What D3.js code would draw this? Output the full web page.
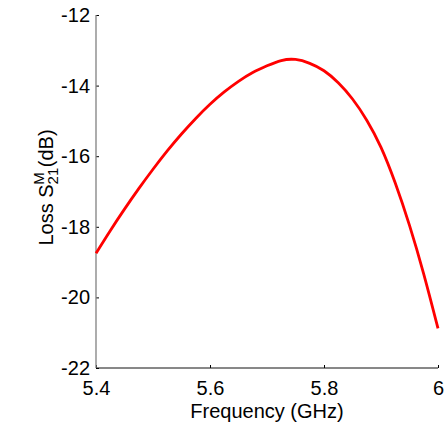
<!DOCTYPE html>
<html>
<head>
<meta charset="utf-8">
<script src="https://cdn.jsdelivr.net/npm/d3@7"></script>
<style>
  body { margin: 0; background: #fff; }
  svg text { font-family: "Liberation Sans", Arial, sans-serif; fill: #000; }
</style>
</head>
<body>
<div id="chart"></div>
<script>
// frequency in GHz, loss in dB
var freq = [5.400, 5.425, 5.450, 5.475, 5.500, 5.525, 5.550, 5.575, 5.600,
            5.625, 5.650, 5.675, 5.700, 5.725, 5.750, 5.775, 5.800, 5.825,
            5.850, 5.875, 5.900, 5.925, 5.950, 5.975, 6.000];
var loss = [-18.75, -18.11, -17.50, -16.92, -16.37, -15.85, -15.37, -14.93, -14.53,
            -14.18, -13.88, -13.63, -13.44, -13.29, -13.26, -13.37, -13.58, -13.92,
            -14.38, -14.98, -15.75, -16.76, -17.96, -19.34, -20.88];
var xTicks = [5.4, 5.6, 5.8, 6];
var yTicks = [-22, -20, -18, -16, -14, -12];

var cfg = {
    w: 446,
    h: 427,
    mTop: 15,
    mRight: 8,
    mBottom: 59,
    mLeft: 96,
    fontSize: 20
};
var width = cfg.w - cfg.mLeft - cfg.mRight,
    height = cfg.h - cfg.mTop - cfg.mBottom;

var x = d3.scaleLinear().domain([5.4, 6]).range([0, width]);
var y = d3.scaleLinear().domain([-22, -12]).range([height, 0]);

var svg = d3.select("#chart").append("svg")
    .attr("width", cfg.w)
    .attr("height", cfg.h)
    .append("g")
    .attr("transform", "translate(" + cfg.mLeft + "," + cfg.mTop + ")");

// x axis, ticks pointing inward
var xAxis = d3.axisBottom(x).tickValues(xTicks).tickSize(-3).tickPadding(13)
    .tickFormat(d3.format("~g"));
svg.append("g")
    .attr("transform", "translate(0," + height + ")")
    .call(function(g) {
        g.call(xAxis);
        g.select(".domain").remove();
        g.selectAll(".tick line").attr("stroke", "#000");
        g.selectAll(".tick text").attr("font-size", cfg.fontSize).attr("font-family", null);
    });
svg.append("line")
    .attr("x1", 0).attr("x2", width)
    .attr("y1", height).attr("y2", height)
    .attr("stroke", "#111").attr("stroke-width", 1);

// y axis
var yAxis = d3.axisLeft(y).tickValues(yTicks).tickSize(-3).tickPadding(6);
svg.append("g")
    .call(function(g) {
        g.call(yAxis);
        g.select(".domain").remove();
        g.selectAll(".tick line").attr("stroke", "#000");
        g.selectAll(".tick text").attr("font-size", cfg.fontSize).attr("font-family", null)
            .text(function(d) { return d < 0 ? "-" + Math.abs(d) : d; });
    });
svg.append("line")
    .attr("x1", 0).attr("x2", 0)
    .attr("y1", 0).attr("y2", height)
    .attr("stroke", "#808080").attr("stroke-width", 1.3);

// curve
var line = d3.line()
    .x(function(d, i) { return x(freq[i]); })
    .y(function(d) { return y(d); })
    .curve(d3.curveNatural);
svg.append("path")
    .datum(loss)
    .attr("d", line)
    .attr("fill", "none")
    .attr("stroke", "#ff0000")
    .attr("stroke-width", 2.8);

// labels
svg.append("text")
    .attr("x", width / 2)
    .attr("y", height + 50)
    .attr("text-anchor", "middle")
    .attr("font-size", cfg.fontSize)
    .text("Frequency (GHz)");

var yl = svg.append("text")
    .attr("transform", "translate(-43," + (height / 2 - 4) + ") rotate(-90)")
    .attr("text-anchor", "middle")
    .attr("font-size", cfg.fontSize);
yl.append("tspan").text("Loss S");
yl.append("tspan").attr("font-size", 15).attr("dy", 5).text("21");
yl.append("tspan").attr("font-size", 15).attr("dx", -17).attr("dy", -14).text("M");
yl.append("tspan").attr("dx", 5).attr("dy", 9).text("(dB)");
</script>
</body>
</html>
